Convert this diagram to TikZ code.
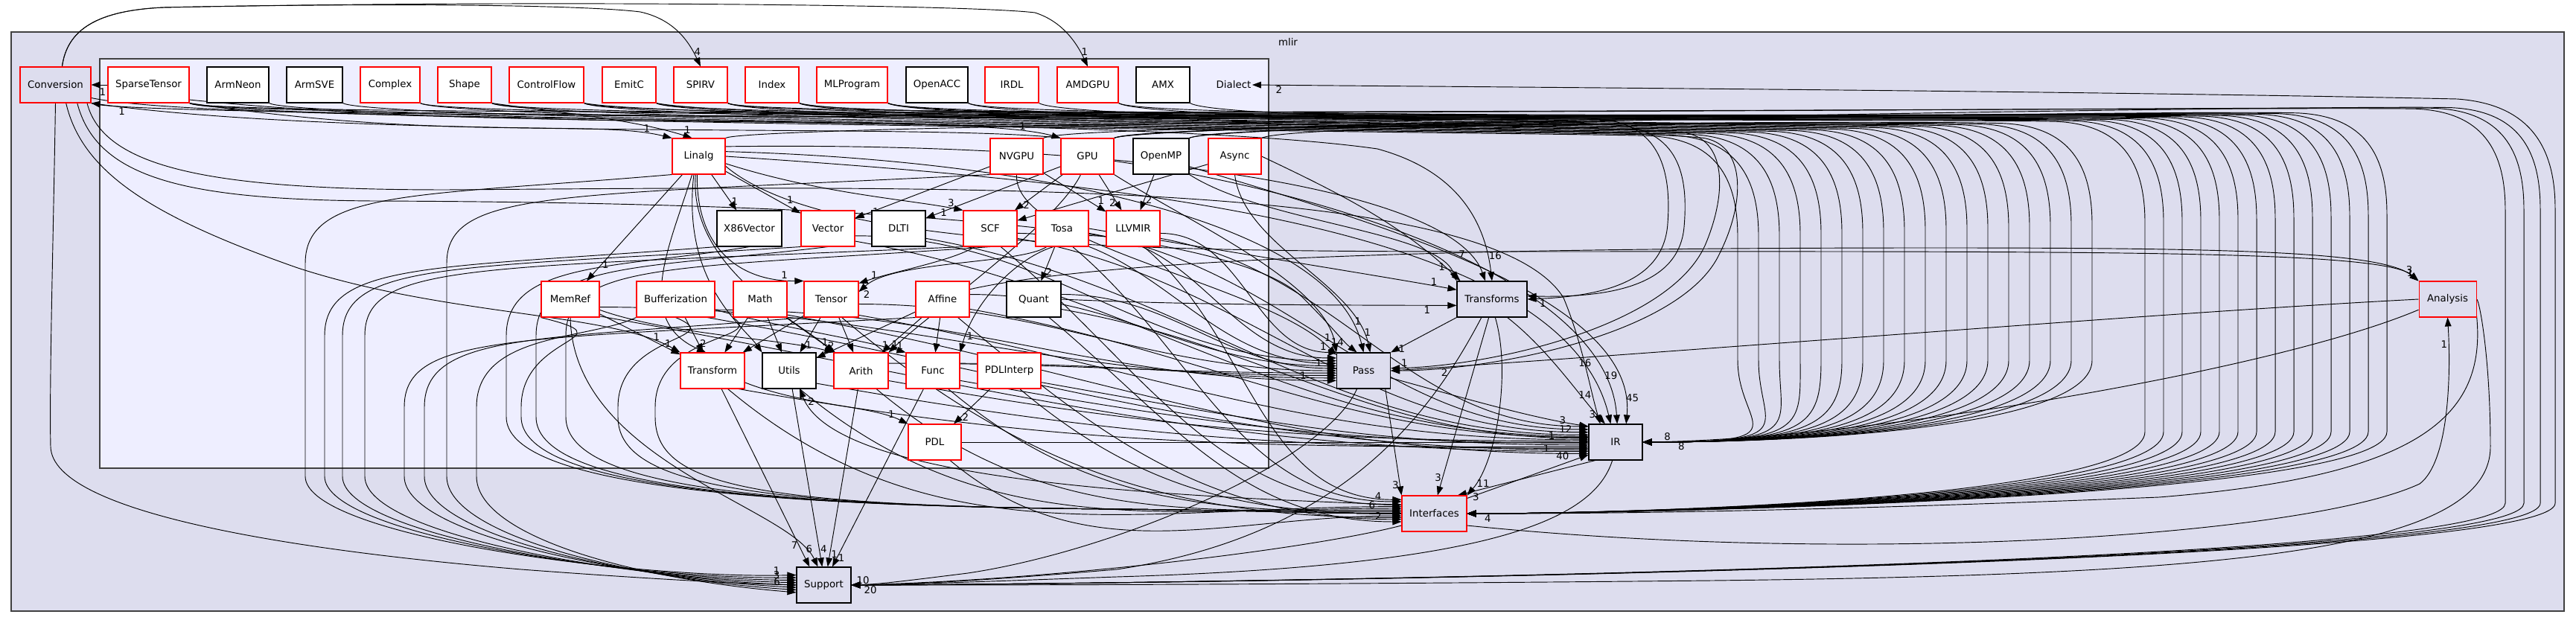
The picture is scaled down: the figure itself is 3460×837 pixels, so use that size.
\documentclass[tikz,border=0pt]{standalone}
\usepackage{fontspec}
\setmainfont{DejaVu Sans}
\usetikzlibrary{arrows.meta}
\definecolor{MlirFill}{HTML}{DDDDEE}
\definecolor{DialectFill}{HTML}{EEEEFF}
\definecolor{FrameGray}{HTML}{404040}
\definecolor{DirRed}{HTML}{FF0000}
\pgfdeclarelayer{back}
\pgfsetlayers{back,main}
\begin{document}
\begin{tikzpicture}[x=.75pt,y=-.75pt,line cap=round,
  dir/.style={draw,line width=.8pt,minimum height=36pt,inner sep=2pt,font=\fontsize{10}{12}\selectfont},
  sub/.style={dir,fill=white}, outer/.style={dir,fill=MlirFill},
  dep/.style={-{Triangle[length=9pt,width=6.5pt]},line width=.7pt},
  hl/.style={font=\fontsize{10}{12}\selectfont,inner sep=1pt}]
  \useasboundingbox (0,0) rectangle (3460,837);
  \begin{pgfonlayer}{back}
    \draw[FrameGray,fill=MlirFill,line width=1pt] (15,43) rectangle (3444,821);
    \draw[FrameGray,fill=DialectFill,line width=1pt] (134,79) rectangle (1704,629);
  \end{pgfonlayer}
  \node[hl] (mlirLbl) at (1730,56) {mlir}; \node[hl] (DialectLbl) at (1657,114) {Dialect};
  % directories inside Dialect
  \foreach \nm/\txt/\cx/\cy/\bw/\bc in {SpT/SparseTensor/199.5/114/109/DirRed, Neon/ArmNeon/319.5/114/83/black, SVE/ArmSVE/422.5/114/75/black,
    Cplx/Complex/524/114/80/DirRed, Shape/Shape/624/114/72/DirRed, CF/ControlFlow/734/114/100/DirRed, EmitC/EmitC/845/114/72/DirRed,
    SPIRV/SPIRV/941/114/72/DirRed, Index/Index/1037/114/72/DirRed, MLP/MLProgram/1144.5/114/95/DirRed, ACC/OpenACC/1258.5/114/83/black,
    IRDL/IRDL/1359/114/72/DirRed, AMDGPU/AMDGPU/1461/114/82/DirRed, AMX/AMX/1562/114/72/black,
    Linalg/Linalg/938.5/210/71/DirRed, NVGPU/NVGPU/1365.5/210/71/DirRed, GPU/GPU/1460.5/210/71/DirRed, OMP/OpenMP/1559.5/210/75/black, Async/Async/1658.5/210/71/DirRed,
    X86/X86Vector/1006.5/307/87/black, Vector/Vector/1112/307/72/DirRed, DLTI/DLTI/1207/307/72/black, SCF/SCF/1330/307/72/DirRed, Tosa/Tosa/1426.5/307/71/DirRed, LLVM/LLVMIR/1522/307/72/DirRed,
    MemRef/MemRef/766/402/78/DirRed, Buf/Bufferization/907.5/402/105/DirRed, Math/Math/1021/402/72/DirRed, Tensor/Tensor/1116.5/402/73/DirRed, Affine/Affine/1266/402/72/DirRed, Quant/Quant/1388.5/402/73/black,
    Transform/Transform/957/498/86/DirRed, Utils/Utils/1060/498/72/black, Arith/Arith/1156.5/498/73/DirRed, Func/Func/1253/498/72/DirRed, PDLI/PDLInterp/1355.5/498/85/DirRed,
    PDL/PDL/1255.5/594/71/DirRed}
    \node[sub,draw=\bc,minimum width=\bw*.75pt] (\nm) at (\cx,\cy) {\txt};
  % directories directly under mlir
  \foreach \nm/\txt/\cx/\cy/\bw/\bc in {Conv/Conversion/74.5/114/95/DirRed, Transforms/Transforms/2004/402/94/black, Analysis/Analysis/3287.5/402/77/DirRed,
    Pass/Pass/1831.5/498/72/black, IR/IR/2170/594/72/black, Interfaces/Interfaces/1926.5/690/87/DirRed, Support/Support/1106.5/786/73/black}
    \node[outer,draw=\bc,minimum width=\bw*.75pt] (\nm) at (\cx,\cy) {\txt};
  \begin{pgfonlayer}{back}
  % Conversion
  \draw[dep] (Conv.70) .. controls (90,40) and (130,14) .. (220,10) .. controls (500,4) and (780,6) .. (860,16) .. controls (905,26) and (925,55) .. node[hl,pos=.8,right]{4} (SPIRV.north);
  \draw[dep] (Conv.70) .. controls (90,40) and (130,14) .. (220,10) .. controls (700,0) and (1300,6) .. (1390,17) .. controls (1425,28) and (1445,55) .. node[hl,pos=.8,right]{1} (AMDGPU.north);
  \draw[dep] (SpT.west) -- node[hl,pos=.3,below=2pt]{1} (Conv.east);
  \draw[dep] (GPU.north west) .. controls (1250,165) and (500,190) .. node[hl,pos=.97,below right]{1} (Conv.south east);
  \draw[dep] (Conv.south) .. controls (72,300) and (66,520) .. (68,600) .. controls (70,690) and (400,740) .. (700,765) .. controls (900,780) and (1000,784) .. (Support.west);
  \draw[dep] (Conv.-60) .. controls (110,230) and (200,290) .. (400,360) .. controls (600,425) and (820,420) .. node[hl,pos=.9,above]{1} (Transform.north west);
  \draw[dep] (Conv.-40) .. controls (130,240) and (250,268) .. (500,270) .. controls (1100,272) and (1650,300) .. (1750,400) .. controls (1790,440) and (1805,460) .. node[hl,pos=.7,left]{14} (Pass.110);
  \draw[dep] (Conv.-30) .. controls (140,230) and (300,255) .. (600,255) .. controls (1300,250) and (2000,240) .. (2100,400) .. controls (2125,460) and (2135,520) .. node[hl,pos=.75,left]{14} (IR.130);
  \draw[dep] (Conv.-20) .. controls (300,170) and (1500,150) .. (1850,200) .. controls (1960,230) and (1995,300) .. node[hl,pos=.85,right]{16} (Transforms.north);
  % Linalg and its neighbours
  \draw[dep] (SpT.south east) .. controls (600,190) and (800,160) .. node[hl,pos=.9,above]{1} (Linalg.north west);
  \draw[dep] (Shape.south east) .. controls (740,150) and (850,160) .. node[hl,pos=.95,above right]{1} (Linalg.110);
  \draw[dep] (SpT.-20) .. controls (700,180) and (1300,150) .. node[hl,pos=.9,above]{1} (GPU.north west);
  \draw[dep] (Linalg) -- node[hl,pos=.75,right]{1} (X86); \draw[dep] (Linalg) -- node[hl,pos=.8,above right]{1} (Vector);
  \draw[dep] (Linalg) -- node[hl,pos=.85,right]{1} (MemRef);
  \draw[dep] (Linalg.-15) .. controls (1100,260) and (1220,268) .. node[hl,pos=.93,above]{3} (SCF.north west);
  \draw[dep] (Linalg.-95) .. controls (935,330) and (990,378) .. node[hl,pos=.9,above]{1} (Tensor.north west);
  \draw[dep] (Linalg.-110) .. controls (900,330) and (850,430) .. (Transform.110);
  \draw[dep] (Linalg.-100) .. controls (925,360) and (1070,430) .. (Arith.north west);
  \draw[dep] (Linalg.-105) .. controls (915,380) and (1000,440) .. (Utils.north west);
  \draw[dep] (Linalg.10) .. controls (1400,215) and (1790,300) .. node[hl,pos=.93,above right]{1} (Pass.north);
  \draw[dep] (Linalg.20) .. controls (1500,190) and (1950,250) .. node[hl,pos=.9,left]{7} (Transforms.110);
  \draw[dep] (Linalg.east) .. controls (1500,245) and (2100,300) .. node[hl,pos=.9,above]{16} (IR.105);
  \draw[dep] (Linalg.-20) .. controls (1100,330) and (1500,338) .. (2000,338) .. controls (2800,338) and (3200,335) .. node[hl,pos=.97,above left]{1} (Analysis.north west);
  \draw[dep] (Affine.20) .. controls (1500,345) and (2000,333) .. (2600,333) .. controls (3000,333) and (3200,338) .. node[hl,pos=.93,above]{3} (Analysis.north west);
  \draw[dep] (NVGPU) -- node[hl,pos=.88,right]{1} (Vector); \draw[dep] (GPU) -- node[hl,pos=.9,right]{1} (DLTI);
  \draw[dep] (GPU) -- node[hl,pos=.85,right]{2} (SCF); \draw[dep] (Async) -- node[hl,pos=.9,below right]{1} (SCF);
  \draw[dep] (NVGPU) -- node[hl,pos=.85,above right]{1} (LLVM); \draw[dep] (GPU) -- node[hl,pos=.8,left]{2} (LLVM);
  \draw[dep] (OMP) -- node[hl,pos=.7,right]{2} (LLVM);
  \draw[dep] (GPU.-110) .. controls (1420,300) and (1250,420) .. node[hl,pos=.95,right]{1} (Arith.north east);
  \draw[dep] (GPU.south east) .. controls (1600,300) and (1780,380) .. node[hl,pos=.93,left]{1} (Pass.north west);
  \draw[dep] (NVGPU.south) .. controls (1360,330) and (1700,380) .. (Pass.150);
  \draw[dep] (Async.south) .. controls (1670,330) and (1820,380) .. node[hl,pos=.9,right]{1} (Pass.70);
  \draw[dep] (OMP.south east) .. controls (1700,300) and (1930,310) .. node[hl,pos=.9,left]{1} (Transforms.north west);
  \draw[dep] (Async.east) .. controls (1800,260) and (1880,300) .. (Transforms.150);
  \draw[dep] (GPU.-10) .. controls (1800,260) and (2160,380) .. node[hl,pos=.88,right]{19} (IR.85);
  \draw[dep] (OMP.-20) .. controls (1850,300) and (2200,400) .. node[hl,pos=.93,right]{45} (IR.60);
  % inner dialect edges
  \draw[dep] (SCF.-130) .. controls (1280,350) and (1200,365) .. node[hl,pos=.9,above right]{1} (Tensor.30);
  \draw[dep] (Tosa.-130) .. controls (1370,355) and (1200,350) .. node[hl,pos=.97,below right]{2} (Tensor.15);
  \draw[dep] (Tosa) -- node[hl,pos=.75,right]{2} (Quant);
  \draw[dep] (Tosa.-115) .. controls (1370,345) and (1310,400) .. node[hl,pos=.9,right]{1} (Func.north east);
  \draw[dep] (Affine) -- node[hl,pos=.8,left]{1} (Arith); \draw[dep] (Affine) -- (Func);
  \draw[dep] (Affine) -- node[hl,pos=.85,above]{2} (Utils);
  \draw[dep] (Buf) -- node[hl,pos=.75,right]{2} (Transform); \draw[dep] (Tensor) -- node[hl,pos=.8,right]{1} (Utils);
  \draw[dep] (Tensor) -- (Arith); \draw[dep] (Tensor) -- (Transform);
  \draw[dep] (Math) -- node[hl,pos=.7,right]{1} (Arith); \draw[dep] (Math) -- (Utils);
  \draw[dep] (Math) -- (Transform); \draw[dep] (MemRef) -- node[hl,pos=.85,above]{1} (Transform);
  \draw[dep] (MemRef.-20) .. controls (900,450) and (1050,455) .. (Arith.north west);
  \draw[dep] (Buf.-15) .. controls (1050,440) and (1150,455) .. node[hl,pos=.93,above]{1} (Func.north west);
  \draw[dep] (PDLI) -- node[hl,pos=.8,right]{2} (PDL);
  \draw[dep] (Transform.-20) .. controls (1080,545) and (1170,545) .. node[hl,pos=.9,above left]{1} (PDL.north west);
  \draw[dep] (Interfaces.165) .. controls (1500,665) and (1120,640) .. node[hl,pos=.95,right]{2} (Utils.-60);
  \draw[dep] (PDL.east) -- (IR.west);
  % dialects into Pass, IR and Interfaces
  \foreach \s/\a/\l in {Vector.-15/160/{}, SCF.-10/165/{}, Tosa.-15/155/{}, LLVM.-10/145/1, Affine.10/170/{}, Quant.10/175/1, Tensor.-10/180/{}, Arith.15/185/{}, Func.15/190/{}, MemRef.-15/195/{}, Buf.-15/200/1}
    \draw[dep] (\s) to[out=0,in=180] node[hl,pos=.96,above left]{\l} (Pass.\a);
  \foreach \s/\a/\l in {SCF.-20/160/{}, Tosa.-10/155/{}, LLVM.-20/150/3, DLTI.-20/165/{}, Vector.-25/168/{}, Affine.-20/170/{}, Quant.-20/172/{}, Tensor.-30/175/{},
    Arith.-20/178/1, Func.-20/182/{}, PDLI.-20/186/{}, Transform.-35/190/{}, Utils.-25/193/{}, Buf.-30/196/{}, MemRef.-30/199/{}, Math.-30/203/1}
    \draw[dep] (\s) to[out=-10,in=180] node[hl,pos=.96,above left]{\l} (IR.\a);
  \foreach \s/\a/\l in {Transform.-50/168/{}, Utils.-60/171/{}, Arith.-50/174/6, Func.-50/177/{}, PDLI.-60/180/{}, PDL.-50/184/{}, Tensor.-60/187/{},
    Affine.-50/190/{}, Quant.-50/194/2, SCF.-60/165/{}, Tosa.-60/160/4, LLVM.-60/157/{}}
    \draw[dep] (\s) to[out=-40,in=180] node[hl,pos=.96,above left]{\l} (Interfaces.\a);
  % long loops on the left
  \foreach \s/\sy/\xc/\a/\l in {Linalg.south west/234/410/160/1, X86.south west/331/436/165/{}, Vector.south west/331/460/170/3, SCF.south west/331/490/175/{},
    Affine.south west/427/543/180/{}, Tensor.south west/427/570/185/6, NVGPU.south west/234/600/190/{}, Buf.south west/427/640/195/{}}
    \draw[dep] (\s) .. controls (\xc+150,\sy+30) and (\xc,\sy+20) .. (\xc,\sy+120) -- (\xc,640) .. controls (\xc,720) and (850,778) .. node[hl,pos=.97,above left]{\l} (Support.\a);
  \foreach \s/\sy/\xc in {MemRef.south west/427/700, X86.south/331/680, Vector.south/331/720, SCF.south/331/760, Buf.south/427/830, Math.south west/427/880}
    \draw[dep] (\s) .. controls (\xc+150,\sy+30) and (\xc,\sy+20) .. (\xc,\sy+120) -- (\xc,560) .. controls (\xc,650) and (1000,680) .. (1500,684) .. controls (1700,686) and (1800,690) .. (Interfaces.west);
  \draw[dep] (Transform) -- node[hl,pos=.88,left]{7} (Support.128);
  \draw[dep] (MemRef.south) .. controls (770,620) and (1060,680) .. node[hl,pos=.93,above]{6} (Support.108);
  \draw[dep] (Utils) -- node[hl,pos=.9,right]{4} (Support.95); \draw[dep] (Arith) -- node[hl,pos=.93,right]{1} (Support.78);
  \draw[dep] (Func) -- node[hl,pos=.95,right]{1} (Support.65);
  % wide loops round the right side
  \foreach \s/\cy/\bx/\l in {SpT.south east/25/2334/{}, Neon.south east/25/2362/{}, SVE.south east/25/2390/{}, Cplx.south east/25/2418/{}, Shape.south east/25/2446/{},
    CF.south east/25/2474/{}, EmitC.south east/25/2502/{}, SPIRV.south east/25/2530/{}, Index.south east/25/2558/{}, MLP.south east/25/2586/{}, ACC.south east/25/2614/{},
    IRDL.south east/25/2642/{}, AMDGPU.south east/25/2670/{}, AMX.south east/25/2698/{}, NVGPU.north east/-20/2726/{}, GPU.north east/-20/2754/{},
    OMP.north east/-20/2782/{}, Async.north east/-20/2810/8}{
    \pgfmathsetmacro\by{140+(3430-\bx)*0.035}
    \draw[dep] (\s) .. controls +(40,\cy) and (\bx-260,\by) .. (\bx-120,\by+4) .. controls (\bx-30,\by+8) and (\bx,\by+60) .. (\bx,\by+140) -- (\bx,484) .. controls (\bx,574) and (2426,594) .. node[hl,pos=.96,above right]{\l} (IR.east);}
  \foreach \s/\cy/\bx/\l in {Conv.south east/25/2881/{}, SpT.south east/25/2906/{}, Cplx.south east/25/2931/{}, Shape.south east/25/2956/{}, CF.south east/25/2981/{},
    EmitC.south east/25/3006/{}, SPIRV.south east/25/3031/{}, Index.south east/25/3056/{}, MLP.south east/25/3081/{}, ACC.south east/25/3106/{},
    AMDGPU.south east/25/3131/{}, Linalg.north east/-20/3156/{}, GPU.north east/-20/3181/{}, OMP.north east/-20/3206/4}{
    \pgfmathsetmacro\by{140+(3430-\bx)*0.035}
    \draw[dep] (\s) .. controls +(40,\cy) and (\bx-260,\by) .. (\bx-120,\by+4) .. controls (\bx-30,\by+8) and (\bx,\by+60) .. (\bx,\by+140) -- (\bx,580) .. controls (\bx,670) and (2190,690) .. node[hl,pos=.97,below right]{\l} (Interfaces.east);}
  \foreach \s/\cy/\bx/\l in {SpT.south east/25/3365/{}, SPIRV.south east/25/3390/20, GPU.north east/-20/3412/{}}{
    \pgfmathsetmacro\by{140+(3430-\bx)*0.035}
    \draw[dep] (\s) .. controls +(40,\cy) and (\bx-260,\by) .. (\bx-120,\by+4) .. controls (\bx-30,\by+8) and (\bx,\by+60) .. (\bx,\by+140) -- (\bx,676) .. controls (\bx,766) and (1363,786) .. node[hl,pos=.98,below right]{\l} (Support.east);}
  \draw[dep] (Support.east) .. controls (1363,786) and (3432,766) .. (3432,676) -- (3432,280) .. controls (3432,200) and (3400,140) .. (3300,133) .. controls (2800,122) and (2000,117) .. node[hl,pos=.97,below right]{2} (DialectLbl.east);
  \draw[dep] (Index.south east) .. controls (1150,160) and (1900,145) .. (2150,160) .. controls (2230,168) and (2245,230) .. (2240,300) .. controls (2235,380) and (2150,398) .. node[hl,pos=.95,below right]{1} (Transforms.east);
  \draw[dep] (MLP.south east) .. controls (1250,160) and (1900,150) .. (2170,168) .. controls (2255,175) and (2268,235) .. (2262,305) .. controls (2255,385) and (2160,400) .. (Transforms.5);
  \draw[dep] (CF.south east) .. controls (900,160) and (2000,160) .. (2260,178) .. controls (2320,185) and (2320,260) .. (2290,330) .. controls (2240,440) and (2000,492) .. node[hl,pos=.97,above right]{1} (Pass.5);
  \draw[dep] (EmitC.south east) .. controls (1000,162) and (2050,165) .. (2285,185) .. controls (2345,192) and (2345,270) .. (2310,340) .. controls (2260,450) and (2000,498) .. (Pass.east);
  % top level directories
  \draw[dep] (Quant.east) .. controls (1600,410) and (1800,410) .. node[hl,pos=.93,below left]{1} (Transforms.-170);
  \draw[dep] (Tosa.east) .. controls (1600,330) and (1850,370) .. node[hl,pos=.93,above left]{1} (Transforms.165);
  \draw[dep] (Transforms.south west) -- node[hl,pos=.9,right]{1} (Pass.north east);
  \draw[dep] (Transforms.-50) .. controls (2080,470) and (2120,530) .. node[hl,pos=.9,left]{3} (IR.120);
  \draw[dep] (Pass.-15) .. controls (1950,530) and (2050,560) .. node[hl,pos=.92,below left]{12} (IR.150);
  \draw[dep] (Transforms.-100) -- node[hl,pos=.9,left]{3} (Interfaces.80);
  \draw[dep] (Transforms.-80) .. controls (2030,500) and (2010,620) .. node[hl,pos=.9,right]{11} (Interfaces.north east);
  \draw[dep] (Pass.-40) -- node[hl,pos=.9,left]{3} (Interfaces.north west);
  \draw[dep] (Pass.-110) .. controls (1780,620) and (1500,740) .. (1300,770) .. controls (1220,780) and (1180,785) .. (Support.east);
  \draw[dep] (Transforms.-120) .. controls (1920,560) and (1800,720) .. (1500,765) .. controls (1300,782) and (1200,786) .. (Support.east);
  \draw[dep] (Interfaces.25) -- node[hl,pos=.85,above left]{40} (IR.205);
  \draw[dep] (IR.222) -- node[hl,pos=.9,below right]{3} (Interfaces.38);
  \draw[dep] (IR.-100) .. controls (2140,700) and (2000,760) .. (1500,775) .. controls (1300,782) and (1200,786) .. node[hl,pos=.97,above right]{10} (Support.east);
  \draw[dep] (Interfaces.200) .. controls (1750,740) and (1400,780) .. (Support.east);
  \draw[dep] (Analysis.west) .. controls (2900,420) and (2300,470) .. node[hl,pos=.95,below right]{2} (Pass.east);
  \draw[dep] (Analysis.-160) .. controls (3050,500) and (2500,590) .. node[hl,pos=.95,below right]{8} (IR.east);
  \draw[dep] (Analysis.-30) .. controls (3340,560) and (3250,640) .. (2900,668) .. controls (2400,688) and (2150,690) .. (Interfaces.east);
  \draw[dep] (Analysis.east) .. controls (3330,402) and (3345,480) .. (3345,600) .. controls (3345,740) and (3000,772) .. (2300,780) .. controls (1700,786) and (1300,786) .. (Support.east);
  \draw[dep] (Interfaces.-20) .. controls (2500,760) and (3100,720) .. (3250,650) .. controls (3290,620) and (3292,500) .. node[hl,pos=.85,left]{1} (Analysis.south);
  \end{pgfonlayer}
\end{tikzpicture}
\end{document}
